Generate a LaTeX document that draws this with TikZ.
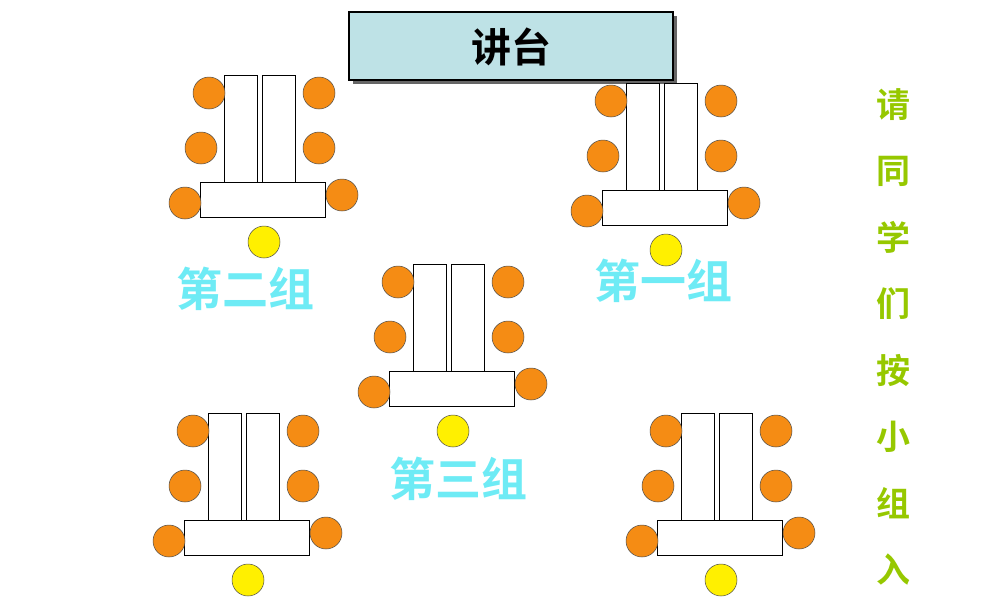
\documentclass[tikz,border=0pt]{standalone}
\usepackage{fontspec}
\newfontfamily\cjk{Noto Sans CJK SC Bold}
\definecolor{seat}{RGB}{245,140,20}
\definecolor{lead}{RGB}{255,240,0}
\definecolor{grp}{RGB}{110,235,245}
\definecolor{side}{RGB}{150,200,0}
\definecolor{stage}{RGB}{190,226,230}
\tikzset{
 desk/.style={draw=black,fill=white,line width=0.6pt},
 chair/.style={circle,draw=black!70,fill=seat,minimum size=32pt,inner sep=0pt,line width=0.5pt},
 head/.style={circle,draw=black!70,fill=lead,minimum size=32pt,inner sep=0pt,line width=0.5pt},
 glabel/.style={font=\cjk\fontsize{46}{46}\selectfont,text=grp},
 vlabel/.style={font=\cjk\fontsize{34}{34}\selectfont,text=side}
}
\newcommand{\tablegroup}[3]{%
 \begin{scope}[shift={(#1,#2)}]
  \draw[desk] (224,75) rectangle (257,182);
  \draw[desk] (262,75) rectangle (295,182);
  \draw[desk] (200,182) rectangle (325,217);
  \node[chair] (#3l1) at (209,93) {};
  \node[chair] (#3l2) at (201,148) {};
  \node[chair] (#3l3) at (185,203) {};
  \node[chair] (#3r1) at (319,93) {};
  \node[chair] (#3r2) at (319,148) {};
  \node[chair] (#3r3) at (342,195) {};
  \node[head] (#3h) at (264,242) {};
 \end{scope}}
\begin{document}
\begin{tikzpicture}[x=1pt,y=-1pt]
\useasboundingbox (0,0) rectangle (1000,600);
\fill[black!60] (353,16) rectangle (677,84);
\draw[fill=stage,line width=2.5pt] (349,12) rectangle (673,80);
\node[font=\cjk\fontsize{40}{40}\selectfont] (stage) at (511,47) {讲台};
\tablegroup{0}{0}{a}
\tablegroup{402}{8}{b}
\tablegroup{189}{189}{c}
\tablegroup{-16}{338}{d}
\tablegroup{457}{338}{e}
\node[glabel] (g2) at (245,289) {第二组};
\node[glabel] (g1) at (663,281) {第一组};
\node[glabel] (g3) at (458,479) {第三组};
\foreach \c [count=\i] in {请,同,学,们,按,小,组,入}
  \node[vlabel] (v\i) at (893,{105+66.3*(\i-1)}) {\c};
\end{tikzpicture}
\end{document}
